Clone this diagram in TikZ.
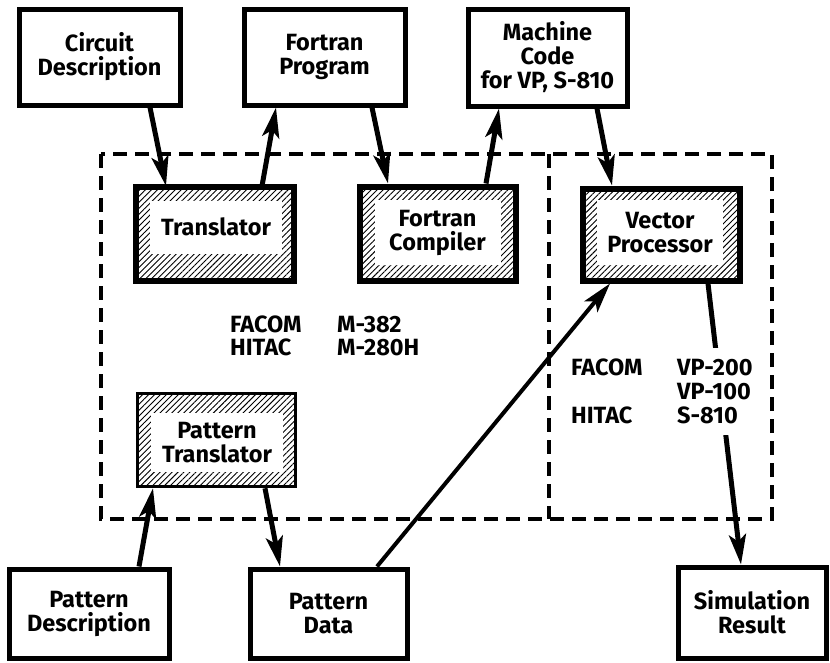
\documentclass[tikz,border=0pt]{standalone}
\usepackage{fontspec}
\setmainfont{Fira Sans}
\usetikzlibrary{arrows.meta,patterns.meta}

\tikzset{
  txt/.style={font=\fontsize{23.5}{24}\selectfont\bfseries, align=center},
  plainbox/.style={draw, line width=5pt, rectangle, inner sep=0pt, txt},
  unitbox/.style={draw, line width=6pt, rectangle, inner sep=0pt,
    pattern={Lines[angle=45,distance=4.2pt,line width=0.9pt]}},
  thinunit/.style={unitbox, line width=3.5pt},
  core/.style={fill=white, rectangle, inner sep=0pt, txt},
  lbl/.style={font=\fontsize{23.5}{24}\selectfont\bfseries, inner sep=0pt, anchor=base west},
  flow/.style={line width=5pt, -{Stealth[length=30pt,width=17pt,inset=7pt]}},
  thinflow/.style={flow, line width=4pt},
  frame/.style={line width=3.4pt, dash pattern=on 14pt off 8pt},
}

\begin{document}
\begin{tikzpicture}[x=1pt, y=-1pt]
\useasboundingbox (0,0) rectangle (830,662);

% outer dashed enclosure and its divider
\draw[frame] (101,154) rectangle (772,519);
\draw[frame] (549,154) -- (549,519);

% input / output boxes
\node[plainbox, minimum width=161pt, minimum height=96pt] (cd) at (99.5,57) {Circuit\\Description};
\node[plainbox, minimum width=161pt, minimum height=96pt] (fp) at (324.5,57) {Fortran\\Program};
\node[plainbox, minimum width=159pt, minimum height=97pt] (mc) at (547.5,57.5) {Machine\\Code\\for VP, S-810};
\node[plainbox, minimum width=160pt, minimum height=89pt] (pdesc) at (89,613.5) {Pattern\\Description};
\node[plainbox, minimum width=157pt, minimum height=89pt] (pd) at (328.5,613.5) {Pattern\\Data};
\node[plainbox, minimum width=148pt, minimum height=91pt] (sr) at (752,612.5) {Simulation\\Result};

% processing units (hatched frames with a white core)
\node[unitbox, minimum width=158pt, minimum height=94pt] (tr) at (214.5,233.5) {};
\node[core, minimum width=132pt, minimum height=53pt] (trc) at (216,227) {Translator};
\node[unitbox, minimum width=156pt, minimum height=94pt] (fc) at (437.5,233.5) {};
\node[core, minimum width=126pt, minimum height=65pt] (fcc) at (437.5,232.5) {Fortran\\Compiler};
\node[unitbox, minimum width=157pt, minimum height=92pt] (vp) at (661,234.5) {};
\node[core, minimum width=126pt, minimum height=65pt] (vpc) at (660,232.5) {Vector\\Processor};
\node[thinunit, minimum width=158pt, minimum height=93pt] (pt) at (216.5,440) {};
\node[core, minimum width=132pt, minimum height=59pt] (ptc) at (217,442.5) {Pattern\\Translator};

% data flow
\draw[flow] ([xshift=50.5pt]cd.south) -- ([xshift=-48.5pt]tr.north);
\draw[flow] ([xshift=47.5pt]tr.north) -- ([xshift=-48.5pt]fp.south);
\draw[flow] ([xshift=47.5pt]fp.south) -- ([xshift=-49.5pt]fc.north);
\draw[flow] ([xshift=48.5pt]fc.north) -- ([xshift=-48.5pt]mc.south);
\draw[flow] ([xshift=49.5pt]mc.south) -- ([xshift=-49pt]vp.north);
\draw[thinflow] ([xshift=48.5pt]pd.north) -- ([xshift=-51pt]vp.south);
\draw[flow] ([xshift=47pt]vp.south) -- ([xshift=-11pt]sr.north);
\draw[flow] ([xshift=50pt]pdesc.north) -- ([xshift=-63.5pt]pt.south);
\draw[flow] ([xshift=48.5pt]pt.south) -- ([xshift=-48.5pt]pd.north);

% host machines
\node[lbl] (h1) at (230,332) {FACOM};
\node[lbl] (h2) at (337,332) {M-382};
\node[lbl] (h3) at (230,355) {HITAC};
\node[lbl] (h4) at (337,355) {M-280H};

% vector machines
\node[lbl] (v1) at (571,375) {FACOM};
\node[lbl] (v2) at (571,423) {HITAC};
\node[fill=white, inner xsep=3pt, inner ysep=11pt, anchor=north west,
      font=\fontsize{23.5}{24}\selectfont\bfseries, align=left] (v3) at (674,348)
  {VP-200\\VP-100\\S-810};
\end{tikzpicture}
\end{document}
